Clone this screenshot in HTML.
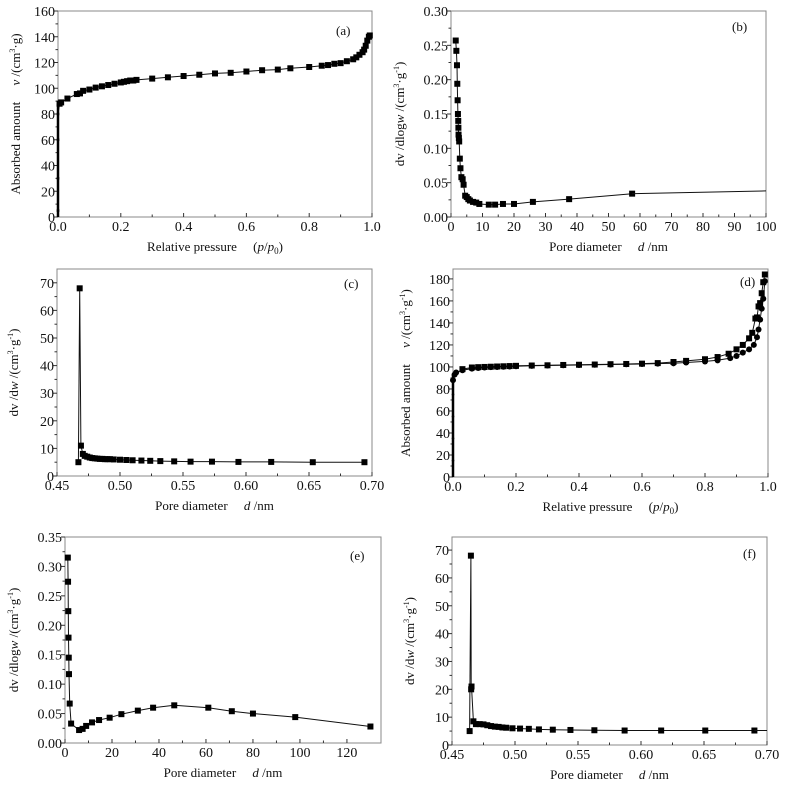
<!DOCTYPE html>
<html><head><meta charset="utf-8"><style>
body{margin:0;background:#fff}
svg{display:block;font-family:"Liberation Serif",serif}
</style></head><body>
<svg id="fig" width="798" height="787" viewBox="0 0 798 787" xmlns="http://www.w3.org/2000/svg"></svg>
<script>
const aX=[0,0,0,0,0.005,0.01,0.03,0.06,0.07,0.08,0.1,0.12,0.14,0.16,0.18,0.2,0.21,0.22,0.23,0.24,0.25,0.3,0.35,0.4,0.45,0.5,0.55,0.6,0.65,0.7,0.74,0.8,0.84,0.86,0.88,0.9,0.92,0.94,0.95,0.96,0.97,0.975,0.98,0.985,0.99,0.993];
const aY=[5,30,60,80,88,89,92,95.5,96,98,99,100.5,101.5,102.5,103.5,104.5,105,105.5,106,106,106.5,107.5,108.5,109.5,110.5,111.5,112,113,114,114.5,115.5,116.5,117.5,118,119,119.5,121,122.5,124,126,128,130,133,137,140,141];
const bX=[1.5,1.7,1.9,2.0,2.1,2.2,2.3,2.35,2.4,2.5,2.6,2.8,3.0,3.3,3.7,4.0,4.5,5.0,5.5,6,7,8,9,12,14,16.5,20,26,37.5,57.5];
const bY=[0.257,0.242,0.221,0.194,0.17,0.15,0.14,0.13,0.12,0.115,0.11,0.085,0.071,0.058,0.055,0.047,0.031,0.029,0.026,0.024,0.022,0.021,0.019,0.018,0.018,0.019,0.019,0.022,0.026,0.034];
const bEndX=[57.5,100];
const bEndY=[0.034,0.038];
const cX=[0.467,0.468,0.469,0.4705,0.472,0.474,0.476,0.478,0.48,0.482,0.484,0.486,0.488,0.49,0.492,0.495,0.5,0.505,0.51,0.517,0.524,0.532,0.543,0.556,0.573,0.594,0.62,0.653,0.694];
const cY=[5,68,11,8,7.3,7,6.7,6.5,6.4,6.3,6.2,6.2,6.1,6.1,6.1,6,5.9,5.8,5.7,5.6,5.5,5.4,5.3,5.2,5.2,5.1,5.1,5.0,5.0];
const dAdsX=[0,0,0,0,0,0.005,0.01,0.03,0.06,0.08,0.1,0.12,0.14,0.16,0.18,0.2,0.25,0.3,0.35,0.4,0.45,0.5,0.55,0.6,0.65,0.7,0.74,0.8,0.84,0.88,0.9,0.92,0.94,0.955,0.965,0.97,0.975,0.98,0.985,0.99];
const dAdsY=[15,35,55,75,88,93,95,97,98.5,99,99.5,99.8,100,100.2,100.4,100.6,101,101.3,101.5,101.8,102,102.2,102.5,102.7,103,103.3,104,105,106,108,110,113,116,120,127,134,143,153,162,178];
const dDesX=[0.99,0.985,0.98,0.975,0.97,0.965,0.96,0.95,0.94,0.92,0.9,0.875,0.84,0.8,0.74,0.7,0.65,0.6,0.55,0.5,0.45,0.4,0.35,0.3,0.25,0.2,0.18,0.16,0.14,0.12,0.1,0.08,0.06,0.03];
const dDesY=[184,177,167,158,155,145,144,131,126,120,116,112,109,107,105.5,104.5,103.5,103,102.7,102.5,102.2,102,101.8,101.5,101.3,101,100.8,100.6,100.4,100.2,100,99.8,99.5,98];
const eX=[1.2,1.3,1.4,1.5,1.6,1.7,2.0,2.6,6,7.5,9,11.5,14.5,19,24,31,37.5,46.5,61,71,80,98,130];
const eY=[0.315,0.274,0.224,0.179,0.145,0.117,0.067,0.033,0.022,0.024,0.029,0.035,0.039,0.043,0.049,0.055,0.06,0.064,0.06,0.054,0.05,0.044,0.028];
const fX=[0.464,0.465,0.4652,0.4655,0.467,0.469,0.472,0.475,0.478,0.481,0.484,0.487,0.49,0.493,0.498,0.504,0.511,0.519,0.53,0.544,0.563,0.587,0.616,0.651,0.69];
const fY=[5,68,20,21,8.5,7.5,7.5,7.4,7.1,6.8,6.6,6.5,6.3,6.2,6,5.9,5.8,5.6,5.5,5.4,5.3,5.2,5.2,5.2,5.2];
const fEndX=[0.69,0.70];
const fEndY=[5.2,5.2];
const ticksA_X=["0.0","0.2","0.4","0.6","0.8","1.0"];
const ticksA_Y=["0","20","40","60","80","100","120","140","160"];
const ticksB_X=["0","10","20","30","40","50","60","70","80","90","100"];
const ticksB_Y=["0.00","0.05","0.10","0.15","0.20","0.25","0.30"];
const ticksC_X=["0.45","0.50","0.55","0.60","0.65","0.70"];
const ticksC_Y=["0","10","20","30","40","50","60","70"];
const ticksD_Y=["0","20","40","60","80","100","120","140","160","180"];
const ticksE_X=["0","20","40","60","80","100","120"];
const ticksE_Y=["0.00","0.05","0.10","0.15","0.20","0.25","0.30","0.35"];

const NS="http://www.w3.org/2000/svg";
const svg=document.getElementById('fig');
function mk(tag,attrs,parent,text){const e=document.createElementNS(NS,tag);for(const k in attrs)e.setAttribute(k,attrs[k]);if(text!==undefined)e.textContent=text;(parent||svg).appendChild(e);return e;}

function panel(id,P){
  const g=mk('g',{});
  
  
  const sx=v=>P.L+(v-P.xmin)/(P.xmax-P.xmin)*(P.R-P.L);
  const sy=v=>P.B-(v-P.ymin)/(P.ymax-P.ymin)*(P.B-P.T);
  const frame=mk('rect',{x:P.L,y:P.T,width:P.R-P.L,height:P.B-P.T,fill:'none',stroke:'#888','stroke-width':1},g);
  
  
  const xt=mk('g',{},g);
  
  
  P.xt.forEach(t=>{const x=sx(parseFloat(t));mk('line',{x1:x,x2:x,y1:P.B,y2:P.B-4,stroke:'#333'},xt);
    mk('text',{x:x,y:P.B+14,'text-anchor':'middle','font-size':14,fill:'#111'},xt,t);});
  for(let i=0;i<P.xt.length-1;i++){const x=(sx(parseFloat(P.xt[i]))+sx(parseFloat(P.xt[i+1])))/2;mk('line',{x1:x,x2:x,y1:P.B,y2:P.B-2.5,stroke:'#333'},xt);}
  const yt=mk('g',{},g);
  
  
  P.yt.forEach(t=>{const y=sy(parseFloat(t));mk('line',{x1:P.L,x2:P.L-4,y1:y,y2:y,stroke:'#333'},yt);
    mk('text',{x:P.L-3,y:y+5,'text-anchor':'end','font-size':14,fill:'#111'},yt,t);});
  for(let i=0;i<P.yt.length-1;i++){const y=(sy(parseFloat(P.yt[i]))+sy(parseFloat(P.yt[i+1])))/2;mk('line',{x1:P.L,x2:P.L-2.5,y1:y,y2:y,stroke:'#333'},yt);}
  const xtitle=mk('text',{x:(P.L+P.R)/2,y:P.B+34,'text-anchor':'middle','font-size':13,fill:'#111'},g);
  
  
  xtitle.innerHTML=P.xtitle;
  const ytitle=mk('text',{x:0,y:0,'text-anchor':'middle','font-size':13,fill:'#111',transform:`translate(${P.ytx},${(P.T+P.B)/2}) rotate(-90)`},g);
  
  
  ytitle.innerHTML=P.ytitle;
  const lab=mk('text',{x:P.labX,y:P.labY,'font-size':13,fill:'#111'},g,'('+id+')');
  
  
  P.series.forEach((s,si)=>{
    const sg=mk('g',{},g);
    
    
    const pts=s.x.map((v,i)=>sx(v).toFixed(1)+','+sy(s.y[i]).toFixed(1)).join(' ');
    mk('polyline',{points:pts,fill:'none',stroke:'#111','stroke-width':1},sg);
    if(s.marker!==false) s.x.forEach((v,i)=>{
      const small=(s.smallBelow!==undefined && v<=s.smallBelow && s.y[i]<85);
      const h=small?1.3:3;
      if(s.marker==='circle'){const c=mk('circle',{cx:sx(v),cy:sy(s.y[i]),r:h,fill:'#000'},sg);
        }
      else{const r=mk('rect',{x:sx(v)-h,y:sy(s.y[i])-h,width:2*h,height:2*h,fill:'#000'},sg);
        }
    });
    if(s.smallBelow!==undefined){
      const base=mk('line',{x1:sx(0),x2:sx(0),y1:sy(0),y2:sy(s.y.find((y,i)=>s.x[i]>0)||0),stroke:'#000','stroke-width':2.5},sg);
    }
  });
}
const pp='<tspan font-style="italic">p</tspan>/<tspan font-style="italic">p</tspan><tspan font-size="9" dy="3">0</tspan><tspan dy="-3">)</tspan>';
const vTitle='Absorbed amount&#160;&#160;&#160;&#160;&#160;<tspan font-style="italic">v</tspan> /(cm<tspan font-size="8" dy="-5">3</tspan><tspan dy="5">·g</tspan>';
panel('a',{L:58,R:372,T:11,B:217,xmin:0,xmax:1,ymin:0,ymax:160,xt:ticksA_X,yt:ticksA_Y,
  xtitle:'Relative pressure&#160;&#160;&#160;&#160;&#160;('+pp,ytitle:vTitle+')',ytx:20,labX:336,labY:35,
  series:[{name:'isotherm',x:aX,y:aY,smallBelow:0.001}]});
panel('b',{L:451,R:766,T:11,B:217,xmin:0,xmax:100,ymin:0,ymax:0.30,xt:ticksB_X,yt:ticksB_Y,
  xtitle:'Pore diameter&#160;&#160;&#160;&#160;&#160;<tspan font-style="italic">d</tspan> /nm',
  ytitle:'dv /dlog<tspan font-style="italic">w</tspan> /(cm<tspan font-size="8" dy="-5">3</tspan><tspan dy="5">·g</tspan><tspan font-size="8" dy="-5">-1</tspan><tspan dy="5">)</tspan>',ytx:404,labX:732,labY:31,
  series:[{name:'pore-distribution',x:bX,y:bY},{name:'tail',x:bEndX,y:bEndY,marker:false}]});
panel('c',{L:57,R:372,T:269,B:476,xmin:0.45,xmax:0.70,ymin:0,ymax:75,xt:ticksC_X,yt:ticksC_Y,
  xtitle:'Pore diameter&#160;&#160;&#160;&#160;&#160;<tspan font-style="italic">d</tspan> /nm',
  ytitle:'dv /d<tspan font-style="italic">w</tspan> /(cm<tspan font-size="8" dy="-5">3</tspan><tspan dy="5">·g</tspan><tspan font-size="8" dy="-5">-1</tspan><tspan dy="5">)</tspan>',ytx:18,labX:344,labY:288,
  series:[{name:'micropore',x:cX,y:cY}]});
panel('d',{L:453,R:768,T:269,B:477,xmin:0,xmax:1,ymin:0,ymax:189,xt:ticksA_X,yt:ticksD_Y,
  xtitle:'Relative pressure&#160;&#160;&#160;&#160;&#160;('+pp,ytitle:vTitle+'<tspan font-size="8" dy="-5">-1</tspan><tspan dy="5">)</tspan>',ytx:410,labX:740,labY:286,
  series:[{name:'adsorption',x:dAdsX,y:dAdsY,marker:'circle',smallBelow:0.001},{name:'desorption',x:dDesX,y:dDesY}]});
panel('e',{L:65,R:381,T:537,B:743,xmin:0,xmax:134.5,ymin:0,ymax:0.35,xt:ticksE_X,yt:ticksE_Y,
  xtitle:'Pore diameter&#160;&#160;&#160;&#160;&#160;<tspan font-style="italic">d</tspan> /nm',
  ytitle:'dv /dlog<tspan font-style="italic">w</tspan> /(cm<tspan font-size="8" dy="-5">3</tspan><tspan dy="5">·g</tspan><tspan font-size="8" dy="-5">-1</tspan><tspan dy="5">)</tspan>',ytx:18,labX:350,labY:560,
  series:[{name:'pore-distribution',x:eX,y:eY}]});
panel('f',{L:452,R:767,T:537,B:745,xmin:0.45,xmax:0.70,ymin:0,ymax:74.7,xt:ticksC_X,yt:ticksC_Y,
  xtitle:'Pore diameter&#160;&#160;&#160;&#160;&#160;<tspan font-style="italic">d</tspan> /nm',
  ytitle:'dv /d<tspan font-style="italic">w</tspan> /(cm<tspan font-size="8" dy="-5">3</tspan><tspan dy="5">·g</tspan><tspan font-size="8" dy="-5">-1</tspan><tspan dy="5">)</tspan>',ytx:414,labX:743,labY:558,
  series:[{name:'micropore',x:fX,y:fY},{name:'tail',x:fEndX,y:fEndY,marker:false}]});
</script>
</body></html>
